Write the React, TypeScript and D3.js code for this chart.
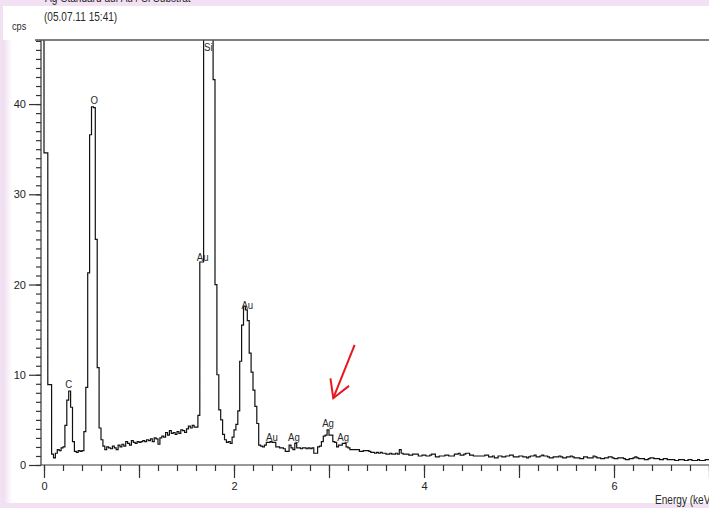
import React, { useEffect, useRef } from "react";
import * as d3 from "d3";

// spectrum: counts per 20 eV channel, first channel starts at -0.04 keV
const ENERGY_START = -0.04;
const BIN_WIDTH = 0.02;

// noise peak, C and O
const countsLow = [
  150, 150, 34.6, 34.6, 8.9, 8.9, 1.2, 0.8, 1.3, 1.7, 1.6, 1.9, 2.0,
  4.4, 7.2, 8.2, 6.4, 2.6, 1.5, 1.4, 1.6, 1.5, 1.6,
  3.7, 8.6, 21.3, 36.6, 39.7, 39.6, 25, 10.8, 4.1, 2.8, 2.1,
];
// background between O and Si
const countsBaseline = [
  1.7, 2.0, 1.9, 1.8, 2.1, 1.9, 1.7, 2.2, 2.0,
  2.3, 2.1, 2.6, 2.4, 2.2, 2.7, 2.5, 2.4, 2.6, 2.5,
  2.6, 2.7, 2.6, 2.8, 2.7, 2.9, 2.6, 3.0, 2.9, 2.3,
  3.0, 3.2, 3.1, 3.6, 3.3, 3.8, 3.5, 3.6, 3.4, 3.7,
  3.5, 3.9, 3.8, 3.6, 4.0, 4.3, 4.1, 4.4, 4.2, 4.2,
];
// Si and Au M
const countsSiAu = [
  5.5, 22.5, 22.5, 300, 300, 300, 300, 300, 42.7, 20, 10, 6.1, 5.0, 3.4, 2.8,
  2.5, 2.6, 2.4, 3.1, 3.9, 4.5, 6.0,
  11.5, 15.5, 17.6, 17.2, 16.0, 12.4, 10.3, 8.3, 6.5, 4.6,
  2.2, 2.1, 2.0, 2.2,
];
// Ag L region
const countsAg = [
  2.5, 2.5, 2.6, 2.5, 2.5,
  2.0, 2.0, 1.9, 1.9, 1.8,
  1.5, 1.5, 2.2, 1.9, 1.7, 2.4,
  1.9, 1.9, 1.8, 1.9, 1.9, 1.8, 1.9, 1.8, 1.9,
  1.3, 1.3, 2.0, 2.1, 2.6, 3.2, 3.3, 3.9, 3.3, 3.3, 2.6, 2.5, 2.0, 2.2, 2.2,
  2.4, 2.4, 2.0, 1.9, 1.7, 1.7, 1.7, 1.7,
  1.7, 1.5, 1.5, 1.6, 1.6, 1.6, 1.5, 1.4, 1.4, 1.3,
  1.4, 1.3, 1.4, 1.3, 1.3, 1.2, 1.2, 1.3, 1.2, 1.2, 1.3, 1.2, 1.7, 1.3, 1.2,
];
// tail up to 7 keV
const countsTail = [
  1.2, 1.2, 1.1, 1.1, 1.2, 1.2, 1.2, 1.0, 1.0, 1.1,
  1.1, 1.0, 1.0, 1.1, 1.2, 1.2, 0.9, 0.9, 1.0, 1.0,
  1.0, 1.1, 1.1, 1.0, 1.0, 1.0, 1.2, 1.2, 1.3, 1.1,
  1.1, 1.2, 1.3, 1.3, 1.1, 1.1, 1.0, 1.0, 1.0, 1.0,
  1.0, 1.0, 1.1, 1.1, 0.9, 0.9, 1.0, 0.8, 0.8, 1.0,
  1.0, 0.9, 0.9, 1.0, 1.0, 1.1, 1.1, 0.9, 0.9, 0.9,
  1.0, 1.0, 0.9, 0.9, 0.8, 0.9, 1.0, 1.0, 1.1, 0.9,
  0.9, 1.0, 1.1, 1.0, 1.0, 0.9, 0.8, 0.8, 0.9, 0.9,
  0.9, 1.0, 0.9, 0.8, 0.8, 0.9, 0.9, 1.0, 0.9, 0.8,
  0.8, 0.8, 0.7, 0.7, 0.9, 0.9, 0.8, 0.8, 0.8, 1.0,
  0.9, 0.8, 0.8, 0.7, 0.7, 0.8, 0.8, 0.9, 0.9, 0.8,
  0.7, 0.7, 0.8, 0.8, 0.8, 0.7, 0.6, 0.6, 0.7, 0.7,
  0.8, 0.9, 0.8, 0.7, 0.7, 0.7, 0.6, 0.6, 0.7, 0.8,
  0.8, 0.7, 0.7, 0.7, 0.6, 0.6, 0.7, 0.7, 0.6, 0.6,
  0.6, 0.6, 0.5, 0.5, 0.6, 0.6, 0.6, 0.5, 0.5, 0.6,
  0.6, 0.5, 0.5, 0.5, 0.6, 0.5, 0.5, 0.5, 0.6, 0.6,
];

// peak labels (energy in keV, label centre in cps)
const peakNames = ["C", "O", "Au", "Si", "Au", "Au", "Ag", "Ag", "Ag"];
const peakEnergies = [0.26, 0.53, 1.67, 1.73, 2.14, 2.40, 2.63, 2.99, 3.15];
const peakLabelCps = [9.0, 40.5, 23.0, 46.3, 17.7, 3.1, 3.1, 4.7, 3.1];

// red arrow pointing at the Ag L alpha peak
const arrowFrom = [3.27, 13.3];
const arrowTo = [3.045, 7.4];

const xMajorTicks = [0, 1, 2, 3, 4, 5, 6, 7];
const xLabelTicks = [0, 2, 4, 6];
const yMajorTicks = [0, 10, 20, 30, 40];

const W = 709;
const H = 508;
const FONT = "'Liberation Sans Narrow', 'Liberation Sans', Arial, sans-serif";
const NARROW = 0.84;

const App = () => {
  const ref = useRef<SVGSVGElement>(null);

  useEffect(() => {
    const svg = d3.select(ref.current);
    svg.selectAll("*").remove();

    const left = 41, right = 709, top = 40, bottom = 465;
    const x = d3.scaleLinear().domain([0, 7]).range([44, 709]);
    const y = d3.scaleLinear().domain([0, 47.1]).range([bottom, top]);

    // narrow text, like the instrument software font
    const label = (px: number, py: number, txt: string, size: number, anchor = "start") =>
      svg.append("text")
        .attr("transform", `translate(${px},${py}) scale(${NARROW},1)`)
        .attr("text-anchor", anchor)
        .attr("font-family", FONT)
        .attr("font-size", size)
        .attr("fill", "#2a2a2a")
        .text(txt);

    // background frame
    const defs = svg.append("defs");
    const grad = defs.append("linearGradient").attr("id", "edge").attr("x1", "0%").attr("x2", "100%");
    grad.append("stop").attr("offset", "0%").attr("stop-color", "#efdcf0");
    grad.append("stop").attr("offset", "100%").attr("stop-color", "#ffffff");
    defs.append("clipPath").attr("id", "plotclip")
      .append("rect").attr("x", left).attr("y", top).attr("width", right - left).attr("height", bottom - top);

    svg.append("rect").attr("width", W).attr("height", H).attr("fill", "#f1e1f2");
    svg.append("rect").attr("x", 3).attr("y", 6).attr("width", W - 3).attr("height", 497).attr("fill", "#ffffff");
    svg.append("rect").attr("x", 3).attr("y", 40).attr("width", 9).attr("height", 463).attr("fill", "url(#edge)");

    // header texts (first line is cut by the top of the picture)
    label(45, 1.5, "Ag-Standard auf Au / Si Substrat", 12);
    label(44, 21, "(05.07.11 15:41)", 12);
    label(12, 30, "cps", 11);

    // spectrum
    const counts = [...countsLow, ...countsBaseline, ...countsSiAu, ...countsAg, ...countsTail];
    const pts: [number, number][] = counts.map((c, i) => [ENERGY_START + i * BIN_WIDTH, c]);
    pts.push([ENERGY_START + counts.length * BIN_WIDTH, counts[counts.length - 1]]);
    const line = d3.line<[number, number]>()
      .x(d => x(d[0]))
      .y(d => y(d[1]))
      .curve(d3.curveStepAfter);
    svg.append("path")
      .attr("clip-path", "url(#plotclip)")
      .attr("d", line(pts))
      .attr("fill", "none")
      .attr("stroke", "#111")
      .attr("stroke-width", 1.2);

    // y axis
    const yMinor = svg.append("g").attr("transform", `translate(${left},0)`)
      .call(d3.axisLeft(y).tickValues(d3.range(0, 48, 1)).tickSize(5).tickSizeOuter(0).tickFormat(() => ""));
    const yMajor = svg.append("g").attr("transform", `translate(${left},0)`)
      .call(d3.axisLeft(y).tickValues(yMajorTicks).tickSize(12).tickSizeOuter(0).tickPadding(3));
    // x axis
    const xMinor = svg.append("g").attr("transform", `translate(0,${bottom})`)
      .call(d3.axisBottom(x).tickValues(d3.range(0, 7.01, 0.2)).tickSize(6).tickSizeOuter(0).tickFormat(() => ""));
    const xMajor = svg.append("g").attr("transform", `translate(0,${bottom})`)
      .call(d3.axisBottom(x).tickValues(xMajorTicks).tickSize(13).tickSizeOuter(0).tickPadding(4)
        .tickFormat(d => (xLabelTicks.includes(+d) ? String(d) : "")));
    [yMinor, yMajor, xMinor, xMajor].forEach(g => {
      g.select(".domain").remove();
      g.selectAll("line").attr("stroke", "#333").attr("stroke-width", 1.2);
      g.selectAll("text").attr("font-family", FONT).attr("font-size", 11).attr("fill", "#222");
    });

    // frame lines
    svg.append("line").attr("x1", left).attr("x2", left).attr("y1", top).attr("y2", bottom)
      .attr("stroke", "#333").attr("stroke-width", 1.2);
    svg.append("line").attr("x1", left).attr("x2", right).attr("y1", bottom).attr("y2", bottom)
      .attr("stroke", "#333").attr("stroke-width", 1.2);
    svg.append("line").attr("x1", 35).attr("x2", right).attr("y1", top).attr("y2", top)
      .attr("stroke", "#555").attr("stroke-width", 1.6);

    // axis title, cut at the right edge like the reference
    label(655, 504, "Energy (keV)", 12);

    // peak labels
    peakNames.forEach((name, i) => {
      label(x(peakEnergies[i]), y(peakLabelCps[i]) + 4, name, 11.5, "middle");
    });

    // arrow
    const x1 = x(arrowFrom[0]), y1 = y(arrowFrom[1]);
    const x2 = x(arrowTo[0]), y2 = y(arrowTo[1]);
    const ang = Math.atan2(y1 - y2, x1 - x2);
    const wing = 20, spread = Math.PI / 6;
    const red = "#e8161e";
    svg.append("line").attr("x1", x1).attr("y1", y1).attr("x2", x2).attr("y2", y2)
      .attr("stroke", red).attr("stroke-width", 2);
    svg.append("path")
      .attr("d", `M${x2 + wing * Math.cos(ang - spread)},${y2 + wing * Math.sin(ang - spread)}L${x2},${y2}L${x2 + wing * Math.cos(ang + spread)},${y2 + wing * Math.sin(ang + spread)}`)
      .attr("fill", "none").attr("stroke", red).attr("stroke-width", 2);
  }, []);

  return (
    <div style={{ position: "absolute", left: 0, top: 0, width: W, height: H }}>
      <svg ref={ref} width={W} height={H} style={{ display: "block" }}></svg>
    </div>
  );
};

export default App;
